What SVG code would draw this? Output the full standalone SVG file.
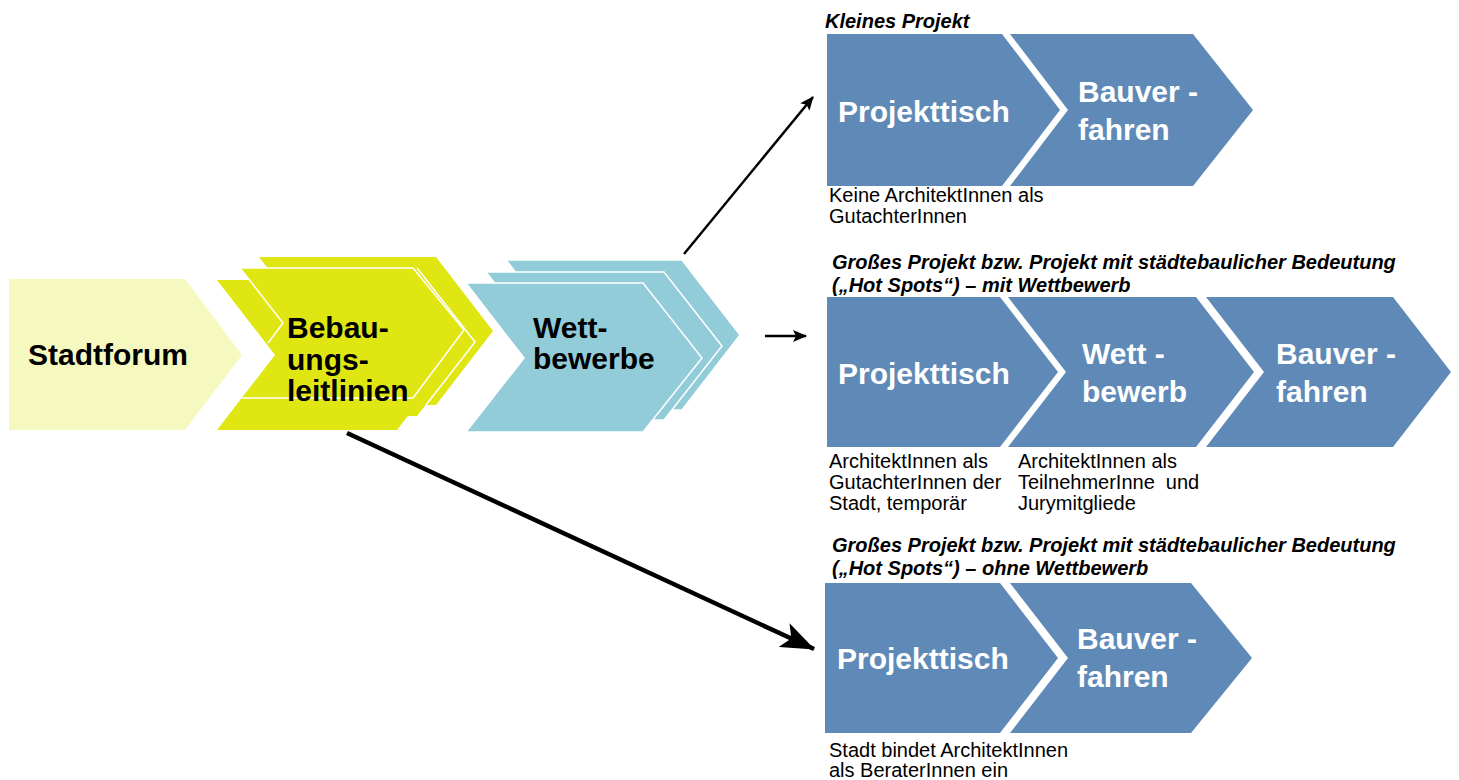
<svg xmlns="http://www.w3.org/2000/svg" width="1459" height="780" viewBox="0 0 1459 780">
<defs>
<style>
text{font-family:"Liberation Sans",Arial,sans-serif;}
.big{font-size:30px;font-weight:bold;fill:#000;}
.bw{font-size:30px;font-weight:bold;fill:#fff;}
.ttl{font-size:20px;font-weight:bold;font-style:italic;fill:#000;}
.sub{font-size:20px;fill:#000;}
.pale{fill:#F5F9C0;}
.yel{fill:#DFE612;}
.wl{fill:none;stroke:#fff;stroke-width:1.5;}
.teal{fill:#92CCD8;stroke:#fff;stroke-width:1.5;}
.blue{fill:#5F8AB7;}
.arr{fill:none;stroke:#000;stroke-width:2.5;}
.arrB{fill:none;stroke:#000;stroke-width:4.5;}
</style>
<marker id="head" viewBox="0 0 14 12" refX="13" refY="6" markerWidth="14" markerHeight="12" markerUnits="userSpaceOnUse" orient="auto">
<path d="M0,0 L14,6 L0,12 L3,6 z" fill="#000"/>
</marker>
<marker id="headBig" viewBox="0 0 34 26" refX="33" refY="13" markerWidth="34" markerHeight="26" markerUnits="userSpaceOnUse" orient="auto">
<path d="M0,0 L34,13 L0,26 L8,13 z" fill="#000"/>
</marker>
</defs>
<rect width="1459" height="780" fill="#fff"/>

<g id="stadtforum">
<polygon class="pale" points="9,279 185,279 242,355 185,430 9,430"/>
<text class="big" x="28" y="365">Stadtforum</text>
</g>

<g id="bebauungsleitlinien">
<polygon class="yel" points="259,257 436,257 493,331 436,405 259,405 316,331"/>
<polygon class="yel" points="240,268 417,268 475,342 417,416 240,416 297,342"/>
<polygon class="yel" points="217,280 397,280 455,355 397,430 217,430 275,355"/>
<polyline class="wl" points="268,343 283,323 240,268 413,268 464,330 413,398 242,398"/>
<polyline class="wl" points="417,268 475,342 426,405"/>
<text class="big" x="287"><tspan x="287" y="338">Bebau-</tspan><tspan x="287" y="370">ungs-</tspan><tspan x="287" y="401">leitlinien</tspan></text>
</g>

<g id="wettbewerbe">
<polygon class="teal" points="506,260 682,260 740,335 682,410 506,410 564,335"/>
<polygon class="teal" points="486,272 664,272 722,346 664,420 486,420 544,346"/>
<polygon class="teal" points="466,283 643,283 702,358 643,432 466,432 524,358"/>
<text class="big"><tspan x="533" y="338">Wett-</tspan><tspan x="533" y="369">bewerbe</tspan></text>
</g>

<g id="kleines-projekt">
<text class="ttl" x="825" y="28">Kleines Projekt</text>
<polygon class="blue" points="827,34 1002,34 1060,110 1002,186 827,186"/>
<polygon class="blue" points="1010,34 1193,34 1253,110 1193,186 1010,186 1068,110"/>
<text class="bw" x="838" y="122">Projekttisch</text>
<text class="bw"><tspan x="1078" y="102">Bauver -</tspan><tspan x="1078" y="140">fahren</tspan></text>
<text class="sub"><tspan x="829" y="202">Keine ArchitektInnen als</tspan><tspan x="829" y="223">GutachterInnen</tspan></text>
</g>

<g id="grosses-projekt-mit-wettbewerb">
<text class="ttl"><tspan x="832" y="269">Großes Projekt bzw. Projekt mit städtebaulicher Bedeutung</tspan><tspan x="832" y="292">(„Hot Spots“) – mit Wettbewerb</tspan></text>
<polygon class="blue" points="827,297 1000,297 1058,372 1000,447 827,447"/>
<polygon class="blue" points="1008,297 1196,297 1254,372 1196,447 1008,447 1066,372"/>
<polygon class="blue" points="1206,297 1393,297 1451,372 1393,447 1206,447 1264,372"/>
<text class="bw" x="838" y="384">Projekttisch</text>
<text class="bw"><tspan x="1082" y="364">Wett -</tspan><tspan x="1082" y="402">bewerb</tspan></text>
<text class="bw"><tspan x="1276" y="364">Bauver -</tspan><tspan x="1276" y="402">fahren</tspan></text>
<text class="sub"><tspan x="829" y="468">ArchitektInnen als</tspan><tspan x="829" y="489">GutachterInnen der</tspan><tspan x="829" y="510">Stadt, temporär</tspan></text>
<text class="sub" xml:space="preserve"><tspan x="1018" y="468">ArchitektInnen als</tspan><tspan x="1018" y="489">TeilnehmerInne  und</tspan><tspan x="1018" y="510">Jurymitgliede</tspan></text>
</g>

<g id="grosses-projekt-ohne-wettbewerb">
<text class="ttl"><tspan x="832" y="552">Großes Projekt bzw. Projekt mit städtebaulicher Bedeutung</tspan><tspan x="832" y="575">(„Hot Spots“) – ohne Wettbewerb</tspan></text>
<polygon class="blue" points="825,583 1000,583 1058,658 1000,733 825,733"/>
<polygon class="blue" points="1010,583 1191,583 1252,658 1191,733 1010,733 1068,658"/>
<text class="bw" x="837" y="669">Projekttisch</text>
<text class="bw"><tspan x="1077" y="649">Bauver -</tspan><tspan x="1077" y="687">fahren</tspan></text>
<text class="sub"><tspan x="829" y="757">Stadt bindet ArchitektInnen</tspan><tspan x="829" y="777">als BeraterInnen ein</tspan></text>
</g>

<g id="connectors">
<line class="arr" x1="684" y1="254" x2="813" y2="97" marker-end="url(#head)"/>
<line class="arr" x1="765" y1="336" x2="806" y2="336" marker-end="url(#head)"/>
<line class="arrB" x1="347" y1="433" x2="814" y2="649" marker-end="url(#headBig)"/>
</g>
</svg>
